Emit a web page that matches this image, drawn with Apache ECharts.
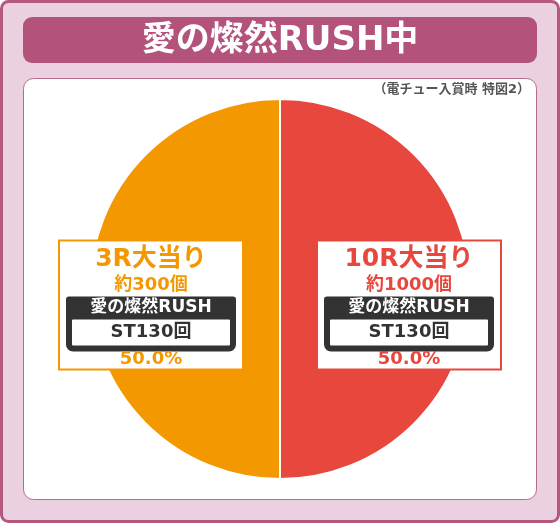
<!DOCTYPE html>
<html>
<head>
<meta charset="utf-8">
<script src="https://cdn.jsdelivr.net/npm/echarts@6/dist/echarts.min.js"></script>
<style>
  html, body { margin: 0; padding: 0; background: #fff; }
  #chart { width: 560px; height: 523px; }
</style>
</head>
<body>
<div id="chart"></div>
<script>
// データ
const titleText = '愛の燦然RUSH中'
const noteText = '（電チュー入賞時 特図2）'
const categories = ['10R大当り', '3R大当り']
const payouts = ['約1000個', '約300個']
const modes = ['愛の燦然RUSH', '愛の燦然RUSH']
const stCounts = ['ST130回', 'ST130回']
const shares = [50.0, 50.0]

const palette = ['#e8473e', '#f39800']
const font = '"DejaVu Sans", "Noto Sans CJK JP", sans-serif'

const chart = echarts.init(document.getElementById('chart'))

const pieData = categories.map((name, i) => ({
    name: name,
    value: shares[i],
    payout: payouts[i],
    mode: modes[i],
    st: stCounts[i],
    label: {
        color: palette[i],
        borderColor: palette[i]
    }
}))

const option = {
    animation: false,
    color: palette,
    graphic: [
        {
            type: 'rect',
            shape: { x: 1.5, y: 1.5, width: 557, height: 520, r: 7 },
            style: { fill: '#ebd0df', stroke: '#b4587f', lineWidth: 3 },
            z: -10
        },
        {
            type: 'rect',
            shape: { x: 23, y: 17, width: 514, height: 46, r: 9 },
            style: { fill: '#b3527b' },
            z: -9
        },
        {
            type: 'text',
            x: 280,
            y: 41,
            style: {
                text: titleText,
                fill: '#fff',
                font: 'bold 34px ' + font,
                align: 'center',
                verticalAlign: 'middle'
            },
            z: -8
        },
        {
            type: 'rect',
            shape: { x: 23.5, y: 78.5, width: 513, height: 421, r: 10 },
            style: { fill: '#fff', stroke: '#b26c92', lineWidth: 1 },
            z: -9
        },
        {
            type: 'text',
            x: 530,
            y: 90,
            style: {
                text: noteText,
                fill: '#555',
                font: 'bold 13px ' + font,
                align: 'right',
                verticalAlign: 'middle'
            },
            z: -8
        }
    ],
    series: [
        {
            type: 'pie',
            center: [280, 289],
            radius: [0, 190],
            startAngle: 90,
            clockwise: true,
            emphasis: { disabled: true },
            itemStyle: { borderColor: '#fff', borderWidth: 2 },
            label: {
                show: true,
                position: 'inside',
                backgroundColor: '#fff',
                borderWidth: 2,
                padding: [2, 6, 0, 6],
                fontFamily: font,
                fontWeight: 'bold',
                align: 'center',
                formatter: (p) => {
                    const d = p.data
                    return '{t|' + d.name + '}\n{c|' + d.payout + '}\n{r|' + d.mode + '}\n{s|' + d.st + '}\n{p|' + p.value.toFixed(1) + '%}'
                },
                rich: {
                    t: { fontSize: 25, lineHeight: 31, fontFamily: font, fontWeight: 'bold' },
                    c: { fontSize: 18, lineHeight: 22, fontFamily: font, fontWeight: 'bold' },
                    r: {
                        fontSize: 17, lineHeight: 23, height: 23, width: 170, align: 'center',
                        color: '#fff', backgroundColor: '#333', borderRadius: [3, 3, 0, 0],
                        fontFamily: font, fontWeight: 'bold'
                    },
                    s: {
                        fontSize: 18, lineHeight: 26, height: 26, width: 158, align: 'center',
                        color: '#333', backgroundColor: '#fff', borderColor: '#333', borderWidth: 6,
                        borderRadius: 1, fontFamily: font, fontWeight: 'bold'
                    },
                    p: { fontSize: 18, lineHeight: 23, verticalAlign: 'bottom', fontFamily: font, fontWeight: 'bold' }
                }
            },
            labelLine: { show: false },
            // ラベルを扇形の中心から少しずらす
            labelLayout: (params) => ({
                dx: params.dataIndex === 0 ? 31 : -31,
                dy: 16
            }),
            data: pieData
        }
    ]
}

chart.setOption(option)
</script>
</body>
</html>
